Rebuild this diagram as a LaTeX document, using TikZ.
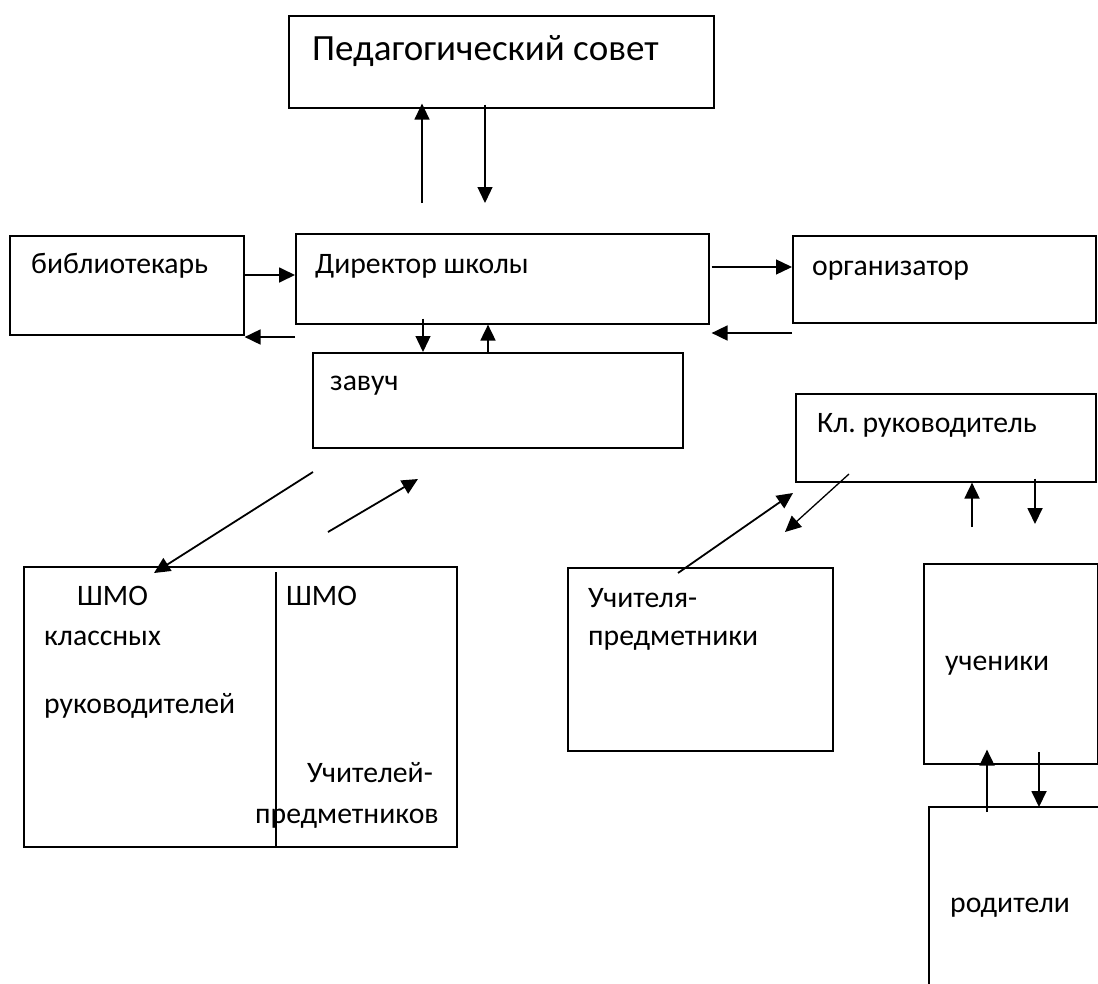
\documentclass[tikz,border=0pt]{standalone}
\usepackage{fontspec}
\setmainfont{Carlito}
\frenchspacing
\usetikzlibrary{arrows.meta}
\tikzset{
  box/.style={draw, line width=1.6pt, anchor=north west, inner sep=0pt},
  txt/.style={anchor=base west, inner sep=0pt, font=\fontsize{29.7}{35}\selectfont},
  arr/.style={line width=1.8pt, -{Triangle[length=16pt,width=15pt]}},
  thinarr/.style={line width=1.3pt, -{Triangle[length=16pt,width=15pt]}},
}
\begin{document}
\begin{tikzpicture}[x=1pt,y=-1pt]
\useasboundingbox (0,0) rectangle (1098,983);
% boxes
\node[box, minimum width=425, minimum height=92] (ped) at (288,15) {};
\node[box, minimum width=234, minimum height=99] (bib) at (9,235) {};
\node[box, minimum width=413, minimum height=90] (dir) at (295,233) {};
\node[box, minimum width=303, minimum height=87] (org) at (792,235) {};
\node[box, minimum width=370, minimum height=95] (zav) at (312,352) {};
\node[box, minimum width=300, minimum height=88] (klr) at (795,393) {};
\node[box, minimum width=433, minimum height=280] (shmo) at (23,566) {};
\node[box, minimum width=265, minimum height=183] (teach) at (567,567) {};
\node[box, minimum width=174, minimum height=200] (pupil) at (923,563) {};
\node[box, draw=none, minimum width=169, minimum height=176] (parent) at (929,807) {};
\draw[line width=1.6pt] (parent.south west) -- (parent.north west) -- (parent.north east);
\draw[line width=1.6pt] (276,572) -- (276,848);
% texts
\node[txt, font=\fontsize{37}{43}\selectfont] at ([shift={(24,45)}]ped.north west) {Педагогический совет};
\node[txt] at ([shift={(22,38)}]bib.north west) {библиотекарь};
\node[txt] at ([shift={(20,40)}]dir.north west) {Директор школы};
\node[txt] at ([shift={(20,40)}]org.north west) {организатор};
\node[txt] at ([shift={(18,38)}]zav.north west) {завуч};
\node[txt] at ([shift={(22,39)}]klr.north west) {Кл. руководитель};
\node[txt] at ([shift={(54,39)}]shmo.north west) {ШМО};
\node[txt] at ([shift={(21,79)}]shmo.north west) {классных};
\node[txt] at ([shift={(21,147)}]shmo.north west) {руководителей};
\node[txt] at ([shift={(263,39)}]shmo.north west) {ШМО};
\node[txt, anchor=base east] at ([shift={(410,216)}]shmo.north west) {Учителей-};
\node[txt] at ([shift={(232,257)}]shmo.north west) {предметников};
\node[txt] at ([shift={(21,40)}]teach.north west) {Учителя-};
\node[txt] at ([shift={(21,78)}]teach.north west) {предметники};
\node[txt] at ([shift={(22,107)}]pupil.north west) {ученики};
\node[txt] at ([shift={(21,105)}]parent.north west) {родители};
% free ends
\coordinate (pedup) at (422,203);
\coordinate (peddown) at (485,203);
\coordinate (row1) at (0,275);
\coordinate (row2) at (0,337);
\coordinate (row3) at (0,267);
\coordinate (row4) at (0,333);
\coordinate (zavdown) at (423,0);
\coordinate (zavup) at (488,0);
\coordinate (shmofrom) at (313,472);
\coordinate (shmoto) at (154,573);
\coordinate (shmoback) at (328,532);
\coordinate (shmobackto) at (418,479);
\coordinate (klrfrom) at (849,474);
\coordinate (klrto) at (785,532);
\coordinate (teachfrom) at (678,573);
\coordinate (teachto) at (793,493);
\coordinate (klrup) at (972,527);
\coordinate (klrdown) at (1035,524);
\coordinate (pupup) at (987,812);
\coordinate (pupdown) at (1039,752);
% connectors
\draw[thinarr] (pedup) -- ([yshift=5]pedup |- ped.south);
\draw[thinarr] ([yshift=4]peddown |- ped.south) -- (peddown);
\draw[arr] (bib.east |- row1) -- (dir.west |- row1);
\draw[arr] (dir.west |- row2) -- (bib.east |- row2);
\draw[thinarr] ([yshift=6]zavdown |- dir.south) -- (zavdown |- zav.north);
\draw[arr] (zavup |- zav.north) -- (zavup |- dir.south);
\draw[thinarr] ([xshift=2]dir.east |- row3) -- (org.west |- row3);
\draw[arr] (org.west |- row4) -- ([xshift=2]dir.east |- row4);
\draw[arr] (shmofrom) -- (shmoto);
\draw[arr] (shmoback) -- (shmobackto);
\draw[thinarr] (klrfrom) -- (klrto);
\draw[arr] (teachfrom) -- (teachto);
\draw[arr] (klrup) -- (klrup |- klr.south);
\draw[arr] ([yshift=4]klrdown |- klr.south) -- (klrdown);
\draw[arr] (pupup) -- ([yshift=15]pupup |- pupil.south);
\draw[arr] (pupdown) -- (pupdown |- parent.north);
\end{tikzpicture}
\end{document}
